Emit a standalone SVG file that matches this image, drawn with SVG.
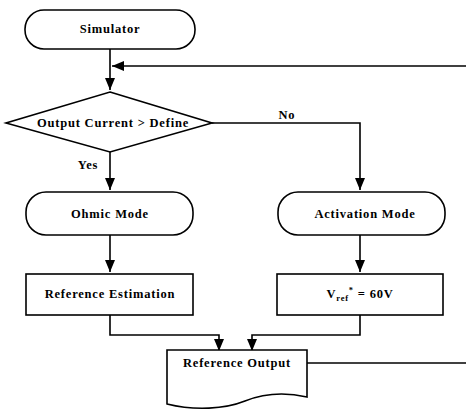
<svg xmlns="http://www.w3.org/2000/svg" width="466" height="410" viewBox="0 0 466 410">
<defs>
<marker id="arr" viewBox="0 0 12 10" refX="12" refY="5" markerWidth="12" markerHeight="10" markerUnits="userSpaceOnUse" orient="auto">
<path d="M0,0 L12,5 L0,10 Z" fill="#000"/>
</marker>
</defs>
<style>
.n{fill:#fff;stroke:#000;stroke-width:1.6}
.t{font-family:"Liberation Serif","Times New Roman",serif;font-weight:bold;font-size:12.5px;letter-spacing:0.8px;fill:#000;text-anchor:middle}
.c{fill:none;stroke:#000;stroke-width:1.6}
</style>
<rect width="466" height="410" fill="#fff"/>
<g id="connectors">
<path class="c" d="M110,49 V90" marker-end="url(#arr)"/>
<path class="c" d="M466,66 H112" marker-end="url(#arr)"/>
<path class="c" d="M212,123 H360 V190" marker-end="url(#arr)"/>
<path class="c" d="M110,152 V190" marker-end="url(#arr)"/>
<path class="c" d="M110,235 V272" marker-end="url(#arr)"/>
<path class="c" d="M360,235 V272" marker-end="url(#arr)"/>
<path class="c" d="M110,315 V335 H219 V351" marker-end="url(#arr)"/>
<path class="c" d="M360,315 V335 H252 V351" marker-end="url(#arr)"/>
<path class="c" d="M307,363 H466"/>
<text class="t" x="287" y="119">No</text>
<text class="t" x="88" y="169">Yes</text>
</g>
<g id="simulator">
<rect class="n" x="25" y="10" width="170" height="39" rx="19"/>
<text class="t" x="110" y="33">Simulator</text>
</g>
<g id="decision">
<path class="n" d="M110,92 L212,123 L110,152 L6,123 Z"/>
<text class="t" x="113" y="127">Output Current &gt; Define</text>
</g>
<g id="ohmic">
<rect class="n" x="26" y="192" width="167" height="43" rx="20"/>
<text class="t" x="110" y="218">Ohmic Mode</text>
</g>
<g id="activation">
<rect class="n" x="278" y="192" width="167" height="43" rx="20"/>
<text class="t" x="365" y="218">Activation Mode</text>
</g>
<g id="estimation">
<rect class="n" x="26" y="274" width="167" height="41"/>
<text class="t" x="110" y="298">Reference Estimation</text>
</g>
<g id="vref">
<rect class="n" x="277" y="274" width="166" height="41"/>
<text class="t" x="360" y="298">V<tspan font-size="8.5" dy="3">ref</tspan><tspan font-size="8.5" dy="-8">*</tspan><tspan dy="5"> = 60V</tspan></text>
</g>
<g id="output">
<path class="n" d="M167,350 H307 V397 C285,392 265,393 245,401 C225,409 195,411 167,404 Z"/>
<text class="t" x="237" y="367">Reference Output</text>
</g>
</svg>
